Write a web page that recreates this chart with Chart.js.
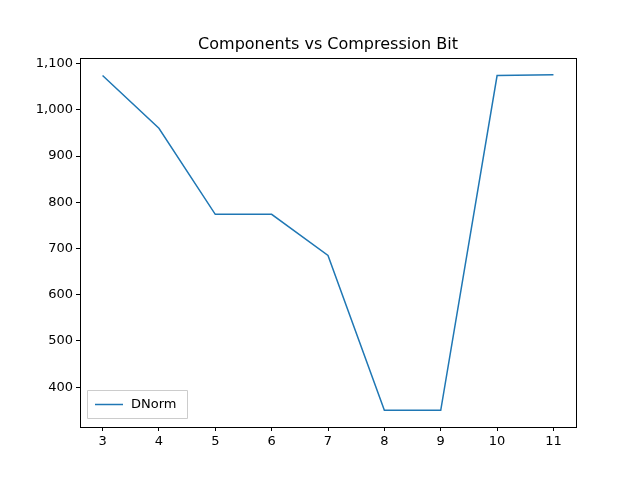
<!DOCTYPE html>
<html>
<head>
<meta charset="utf-8">
<script src="https://cdn.jsdelivr.net/npm/chart.js@4"></script>
<style>body{margin:0;background:#fff}</style>
</head>
<body>
<canvas id="myChart" width="640" height="480"></canvas>
<script>
// values
var bits = [3, 4, 5, 6, 7, 8, 9, 10, 11];
var dnorm = [1074, 960, 774, 774, 685, 350, 350, 1074, 1076];
var xTicks = [3, 4, 5, 6, 7, 8, 9, 10, 11];
var yTicks = [400, 500, 600, 700, 800, 900, 1000, 1100];
var lineColor = '#1f77b4';

var framePlugin = {
    id: 'frame',
    afterDraw: function (chart) {
        var ctx = chart.ctx, a = chart.chartArea;
        ctx.save();
        ctx.strokeStyle = '#000';
        ctx.lineWidth = 1;
        ctx.strokeRect(Math.round(a.left) + 0.5, Math.round(a.top) + 0.5, Math.round(a.right - a.left), Math.round(a.bottom - a.top));
        // title
        ctx.fillStyle = '#000';
        ctx.font = '16px "DejaVu Sans"';
        ctx.textAlign = 'center';
        ctx.textBaseline = 'alphabetic';
        ctx.fillText('Components vs Compression Bit', (a.left + a.right) / 2, a.top - 9);
        // legend, lower left
        var bx = a.left + 7, by = a.bottom - 37, bw = 100, bh = 28;
        ctx.strokeStyle = '#ccc';
        ctx.fillStyle = 'rgba(255,255,255,0.8)';
        ctx.beginPath();
        ctx.rect(bx + 0.5, by + 0.5, bw, bh);
        ctx.fill();
        ctx.stroke();
        ctx.strokeStyle = lineColor;
        ctx.lineWidth = 1.5;
        ctx.beginPath();
        ctx.moveTo(bx + 8, by + 14.5);
        ctx.lineTo(bx + 36, by + 14.5);
        ctx.stroke();
        ctx.fillStyle = '#000';
        ctx.font = '13px "DejaVu Sans"';
        ctx.textAlign = 'left';
        ctx.textBaseline = 'middle';
        ctx.fillText(chart.data.datasets[0].label, bx + 44, by + 15);
        ctx.restore();
    }
};

var ctx = document.getElementById('myChart').getContext('2d');
var myChart = new Chart(ctx, {
    type: 'line',
    data: {
        labels: bits,
        datasets: [{
            label: 'DNorm',
            data: bits.map(function (b, i) { return { x: b, y: dnorm[i] }; }),
            borderColor: lineColor,
            borderWidth: 1.5,
            pointRadius: 0,
            fill: false,
            tension: 0
        }]
    },
    options: {
        responsive: false,
        animation: false,
        devicePixelRatio: 1,
        layout: { padding: { top: 58, right: 64, left: 0, bottom: 0 } },
        plugins: { legend: { display: false }, title: { display: false }, tooltip: { enabled: false } },
        scales: {
            x: {
                type: 'linear',
                min: 2.6,
                max: 11.4,
                afterBuildTicks: function (s) { s.ticks = xTicks.map(function (v) { return { value: v }; }); },
                afterFit: function (s) { s.height = 53; },
                grid: { drawOnChartArea: false, drawTicks: true, tickLength: 4, color: '#000' },
                border: { display: false },
                ticks: { color: '#000', font: { family: 'DejaVu Sans', size: 13 }, padding: 3, maxRotation: 0 }
            },
            y: {
                min: 314,
                max: 1112,
                afterBuildTicks: function (s) { s.ticks = yTicks.map(function (v) { return { value: v }; }); },
                afterFit: function (s) { s.width = 80; },
                grid: { drawOnChartArea: false, drawTicks: true, tickLength: 4, color: '#000' },
                border: { display: false },
                ticks: { color: '#000', font: { family: 'DejaVu Sans', size: 13 }, padding: 3 }
            }
        }
    },
    plugins: [framePlugin]
});
</script>
</body>
</html>
